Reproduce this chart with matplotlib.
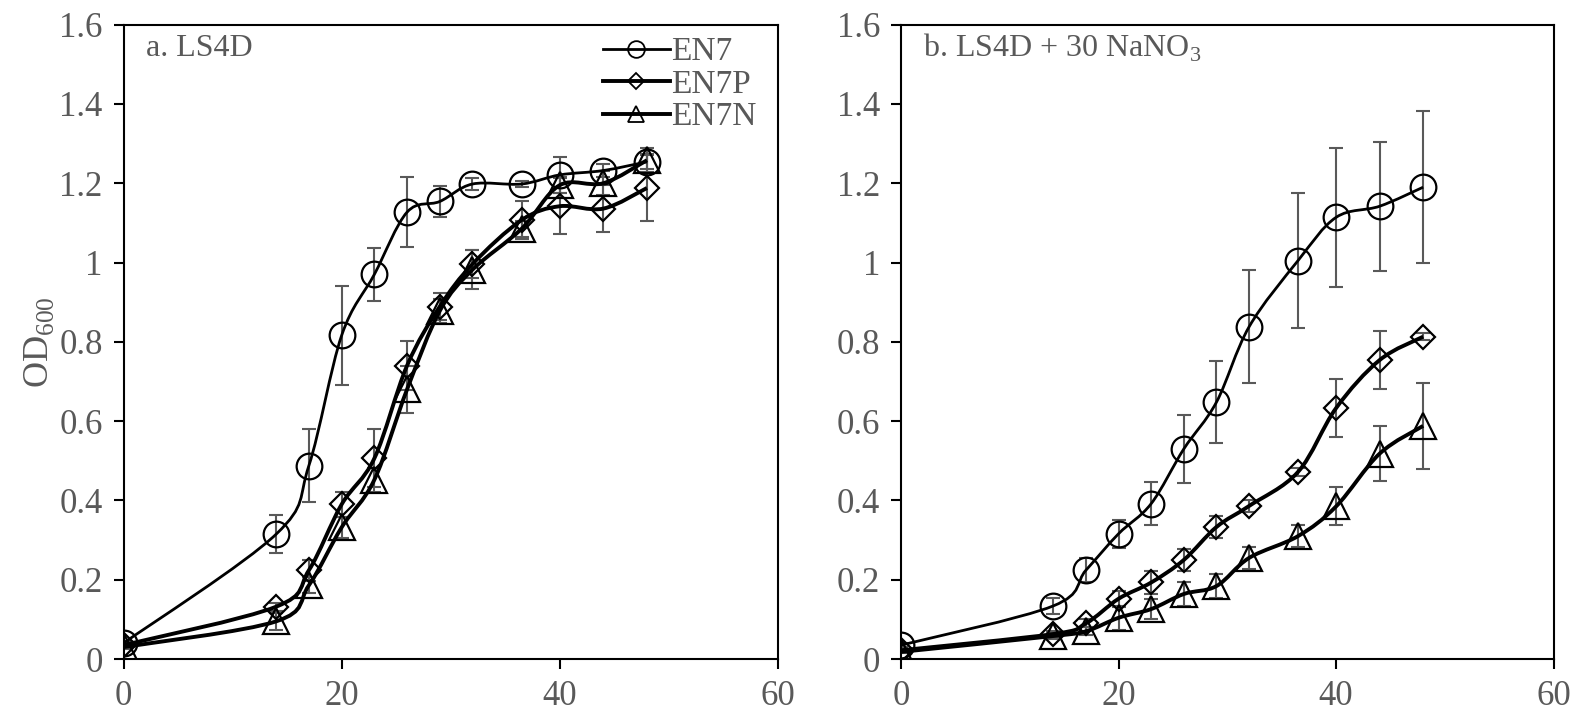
import numpy as np
import matplotlib
matplotlib.use("Agg")
import matplotlib.pyplot as plt
from matplotlib.path import Path
from matplotlib.patches import PathPatch
from matplotlib.lines import Line2D
from matplotlib.ticker import FuncFormatter

plt.rcParams['font.family'] = ['Liberation Serif', 'DejaVu Serif']
plt.rcParams['mathtext.fontset'] = 'custom'
plt.rcParams['mathtext.rm'] = 'Liberation Serif'

# time (h)
hours = [0, 14, 17, 20, 23, 26, 29, 32, 36.5, 40, 44, 48]

# a. LS4D
a_en7 = [0.04, 0.315, 0.488, 0.816, 0.970, 1.127, 1.154, 1.198, 1.198, 1.221, 1.232, 1.254]
a_en7_err = [0.005, 0.047, 0.092, 0.124, 0.066, 0.088, 0.039, 0.014, 0.008, 0.046, 0.017, 0.019]
a_en7p = [0.035, 0.132, 0.224, 0.390, 0.506, 0.740, 0.889, 0.996, 1.107, 1.142, 1.136, 1.188]
a_en7p_err = [0.005, 0.01, 0.026, 0.032, 0.073, 0.062, 0.035, 0.035, 0.048, 0.07, 0.06, 0.083]
a_en7n = [0.03, 0.095, 0.186, 0.332, 0.452, 0.680, 0.878, 0.982, 1.085, 1.195, 1.200, 1.258]
a_en7n_err = [0.005, 0.022, 0.02, 0.027, 0.03, 0.06, 0.03, 0.05, 0.02, 0.02, 0.03, 0.03]

# b. LS4D + 30 NaNO3
b_en7 = [0.035, 0.134, 0.224, 0.316, 0.392, 0.530, 0.648, 0.838, 1.005, 1.114, 1.142, 1.190]
b_en7_err = [0.005, 0.02, 0.03, 0.035, 0.055, 0.085, 0.103, 0.143, 0.17, 0.176, 0.163, 0.192]
b_en7p = [0.022, 0.063, 0.090, 0.152, 0.193, 0.250, 0.333, 0.386, 0.472, 0.633, 0.754, 0.813]
b_en7p_err = [0.003, 0.008, 0.01, 0.02, 0.028, 0.028, 0.028, 0.015, 0.01, 0.072, 0.073, 0.008]
b_en7n = [0.018, 0.058, 0.070, 0.104, 0.126, 0.164, 0.184, 0.255, 0.310, 0.385, 0.518, 0.588]
b_en7n_err = [0.003, 0.008, 0.01, 0.03, 0.026, 0.03, 0.03, 0.028, 0.027, 0.048, 0.07, 0.108]

series_names = ['EN7', 'EN7P', 'EN7N']
markers = ['o', 'D', '^']
marker_sizes = [18.5, 12.5, 18.5]
line_widths = [2.0, 2.8, 2.8]

GRAY = '#595959'


def smooth_path(x, y):
    # Excel-style smoothed line (Catmull-Rom as cubic Bezier)
    x = np.asarray(x, float)
    y = np.asarray(y, float)
    n = len(x)
    verts = [(x[0], y[0])]
    codes = [Path.MOVETO]
    for i in range(n - 1):
        x0, y0 = (x[i - 1], y[i - 1]) if i > 0 else (x[i], y[i])
        x3, y3 = (x[i + 2], y[i + 2]) if i + 2 < n else (x[i + 1], y[i + 1])
        c1 = (x[i] + (x[i + 1] - x0) / 6, y[i] + (y[i + 1] - y0) / 6)
        c2 = (x[i + 1] - (x3 - x[i]) / 6, y[i + 1] - (y3 - y[i]) / 6)
        verts += [c1, c2, (x[i + 1], y[i + 1])]
        codes += [Path.CURVE4] * 3
    return Path(verts, codes)


def draw_panel(ax, data, title):
    for (vals, errs), name, m, ms, lw in zip(data, series_names, markers, marker_sizes, line_widths):
        ax.errorbar(hours, vals, yerr=errs, fmt='none', ecolor=GRAY, elinewidth=1.5,
                    capsize=5, capthick=1.5, zorder=2)
        ax.add_patch(PathPatch(smooth_path(hours, vals), fill=False, edgecolor='black',
                               linewidth=lw, zorder=3))
        ax.plot(hours, vals, linestyle='none', marker=m, markersize=ms,
                markerfacecolor='none', markeredgecolor='black', markeredgewidth=1.6, zorder=4)
    ax.set_xlim(0, 60)
    ax.set_ylim(0, 1.6)
    ax.set_xticks([0, 20, 40, 60])
    ax.set_yticks(np.arange(0, 1.61, 0.2))
    ax.yaxis.set_major_formatter(FuncFormatter(lambda v, p: '%g' % round(v, 1)))
    ax.tick_params(direction='out', length=7, width=1.5, labelsize=25, labelcolor=GRAY,
                   color='black')
    ax.tick_params(axis='x', pad=8)
    ax.tick_params(axis='y', pad=8)
    for s in ax.spines.values():
        s.set_linewidth(1.5)
    ax.text(0.034, 0.963, title, transform=ax.transAxes, fontsize=23, color=GRAY,
            ha='left', va='center')


fig = plt.figure(figsize=(15.88, 7.16), dpi=100)
ax1 = fig.add_axes([0.0778, 0.0796, 0.412, 0.886])
ax2 = fig.add_axes([0.5674, 0.0796, 0.411, 0.886])

draw_panel(ax1, [(a_en7, a_en7_err), (a_en7p, a_en7p_err), (a_en7n, a_en7n_err)], 'a. LS4D')
draw_panel(ax2, [(b_en7, b_en7_err), (b_en7p, b_en7p_err), (b_en7n, b_en7n_err)],
           r'b. LS4D + 30 NaNO$_{\mathregular{3}}$')

ax1.set_ylabel(r'OD$_{\mathregular{600}}$', fontsize=26, color=GRAY, labelpad=2)

handles = [Line2D([], [], color='black', linewidth=lw, marker=m, markersize=ms * 0.65,
                  markerfacecolor='none', markeredgecolor='black', markeredgewidth=1.3)
           for m, ms, lw in zip(markers, marker_sizes, line_widths)]
leg = ax1.legend(handles, series_names, loc='upper left', bbox_to_anchor=(0.733, 0.981),
                 frameon=False, fontsize=24, handlelength=2.0, handletextpad=0.05,
                 labelspacing=0.06, borderpad=0, borderaxespad=0)
for t in leg.get_texts():
    t.set_color(GRAY)

fig.savefig('out.png', dpi=100)
